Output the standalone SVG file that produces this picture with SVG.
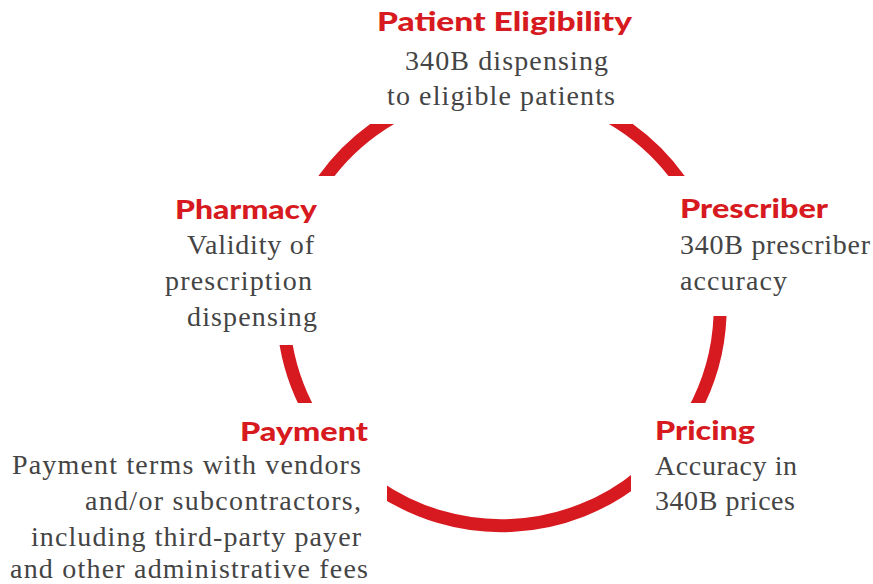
<svg xmlns="http://www.w3.org/2000/svg" width="873" height="584" viewBox="0 0 873 584">
  <style>
    .title { font-family: "Lato", "Liberation Sans", sans-serif; font-weight: 900; font-size: 27px; fill: #D71920; }
    .body { font-family: "Liberation Serif", "DejaVu Serif", serif; font-size: 28px; fill: #444444; }
    .ring { fill: none; stroke: #D71920; stroke-width: 13; }
  </style>
  <defs>
    <clipPath id="ringClip">
      <rect x="0" y="124" width="873" height="52"/>
      <rect x="0" y="345" width="501" height="58"/>
      <rect x="501" y="316" width="372" height="87"/>
      <rect x="387" y="403" width="244" height="181"/>
    </clipPath>
  </defs>
  <rect width="873" height="584" fill="#ffffff"/>
  <g id="connectors" clip-path="url(#ringClip)">
    <path class="ring" d="M320,185 A218.7,218.7 0 0 1 683,185"/>
    <path class="ring" d="M284.6,335 A218.7,218.7 0 0 0 310.2,413"/>
    <path class="ring" d="M720.2,306 A218.7,218.7 0 0 1 692.8,413"/>
    <path class="ring" d="M377,486.8 A218.7,218.7 0 0 0 641,475.4"/>
  </g>
  <g id="patient-eligibility">
    <text class="title" x="377" y="31" textLength="255" lengthAdjust="spacingAndGlyphs">Patient Eligibility</text>
    <text class="body" x="405" y="70" textLength="203">340B dispensing</text>
    <text class="body" x="387" y="105" textLength="228">to eligible patients</text>
  </g>
  <g id="pharmacy">
    <text class="title" x="175" y="219" textLength="142" lengthAdjust="spacingAndGlyphs">Pharmacy</text>
    <text class="body" x="187" y="254" textLength="127">Validity of</text>
    <text class="body" x="165" y="290" textLength="147">prescription</text>
    <text class="body" x="187" y="326" textLength="130">dispensing</text>
  </g>
  <g id="prescriber">
    <text class="title" x="680" y="218" textLength="148" lengthAdjust="spacingAndGlyphs">Prescriber</text>
    <text class="body" x="680" y="254" textLength="190">340B prescriber</text>
    <text class="body" x="680" y="290" textLength="107">accuracy</text>
  </g>
  <g id="payment">
    <text class="title" x="240" y="441" textLength="128" lengthAdjust="spacingAndGlyphs">Payment</text>
    <text class="body" x="12" y="474" textLength="349">Payment terms with vendors</text>
    <text class="body" x="85" y="510" textLength="276">and/or subcontractors,</text>
    <text class="body" x="31" y="546" textLength="330">including third-party payer</text>
    <text class="body" x="10" y="578" textLength="358">and other administrative fees</text>
  </g>
  <g id="pricing">
    <text class="title" x="655" y="440" textLength="100" lengthAdjust="spacingAndGlyphs">Pricing</text>
    <text class="body" x="655" y="475" textLength="142">Accuracy in</text>
    <text class="body" x="655" y="510" textLength="140">340B prices</text>
  </g>
</svg>
